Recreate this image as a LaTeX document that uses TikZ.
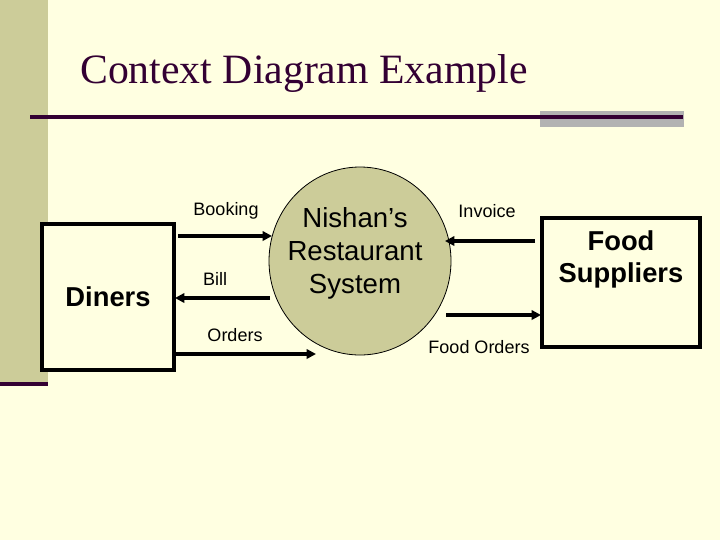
\documentclass[tikz,border=0pt]{standalone}
\usepackage{fontspec}
\setmainfont{Liberation Sans}
\newfontfamily\titlefont{Liberation Serif}
\usetikzlibrary{shapes.geometric,arrows.meta}
\definecolor{bg}{RGB}{255,255,225}
\definecolor{olive}{RGB}{204,204,153}
\definecolor{plum}{RGB}{51,0,51}
\definecolor{greybar}{RGB}{178,178,178}
\begin{document}
\begin{tikzpicture}[x=0.75pt,y=-0.75pt,
  entity/.style={draw=black, line width=3pt, fill=bg, inner sep=0pt},
  entitytext/.style={font=\bfseries\fontsize{20.5}{24.5}\selectfont, align=center, inner sep=0pt},
  flow/.style={line width=3pt, -{Triangle[length=7pt,width=7pt]}},
  lbl/.style={font=\fontsize{13.5}{16}\selectfont, inner sep=0pt}]
% background and frame decoration
\fill[bg] (0,0) rectangle (720,540);
\useasboundingbox (0,0) rectangle (720,540);
\fill[olive] (0,0) rectangle (48,382);
\fill[plum] (0,382) rectangle (48,386);
\fill[greybar] (540,111) rectangle (684,127);
\draw[plum, line width=2.4pt] (30,117) -- (683,117);
\node[anchor=base west, inner sep=0pt, text=plum, font=\titlefont\fontsize{31.3}{38}\selectfont] (title) at (80,83) {Context Diagram Example};
% entities
\node[entity, minimum width=99pt, minimum height=109.5pt] (diners) at (108,297) {};
\node[entitytext] (dinerstext) at (108,297) {Diners};
\node[entity, minimum width=119pt, minimum height=96.5pt] (fs) at (621,282.5) {};
\node[entitytext] (fstext) at (621,259.5) {Food\\Suppliers};
% process
\node[ellipse, draw=black, line width=0.6pt, fill=olive, minimum width=136.5pt, minimum height=141pt, inner sep=0pt] (sys) at (360,261) {};
\node[font=\fontsize{20.7}{24.8}\selectfont, align=center, inner sep=0pt] (systext) at (355,253) {Nishan’s\\Restaurant\\System};
% connector end points
\coordinate (bookA) at (178,236); \coordinate (bookB) at (272,236);
\coordinate (billA) at (270,298); \coordinate (billB) at (175,298);
\coordinate (ordA) at (175,354); \coordinate (ordB) at (316,354);
\coordinate (invA) at (535,241); \coordinate (invB) at (445,241);
\coordinate (foA) at (446,315); \coordinate (foB) at (541,315);
\draw[flow] (bookA) -- (bookB);
\draw[flow] (billA) -- (billB);
\draw[flow] (ordA) -- (ordB);
\draw[flow] (invA) -- (invB);
\draw[flow] (foA) -- (foB);
% labels
\node[lbl] (lbook) at (226,211) {Booking};
\node[lbl] (lbill) at (215,279) {Bill};
\node[lbl] (lord) at (235,335) {Orders};
\node[lbl] (linv) at (487,211) {Invoice};
\node[lbl] (lfo) at (479,347) {Food Orders};
\end{tikzpicture}
\end{document}
